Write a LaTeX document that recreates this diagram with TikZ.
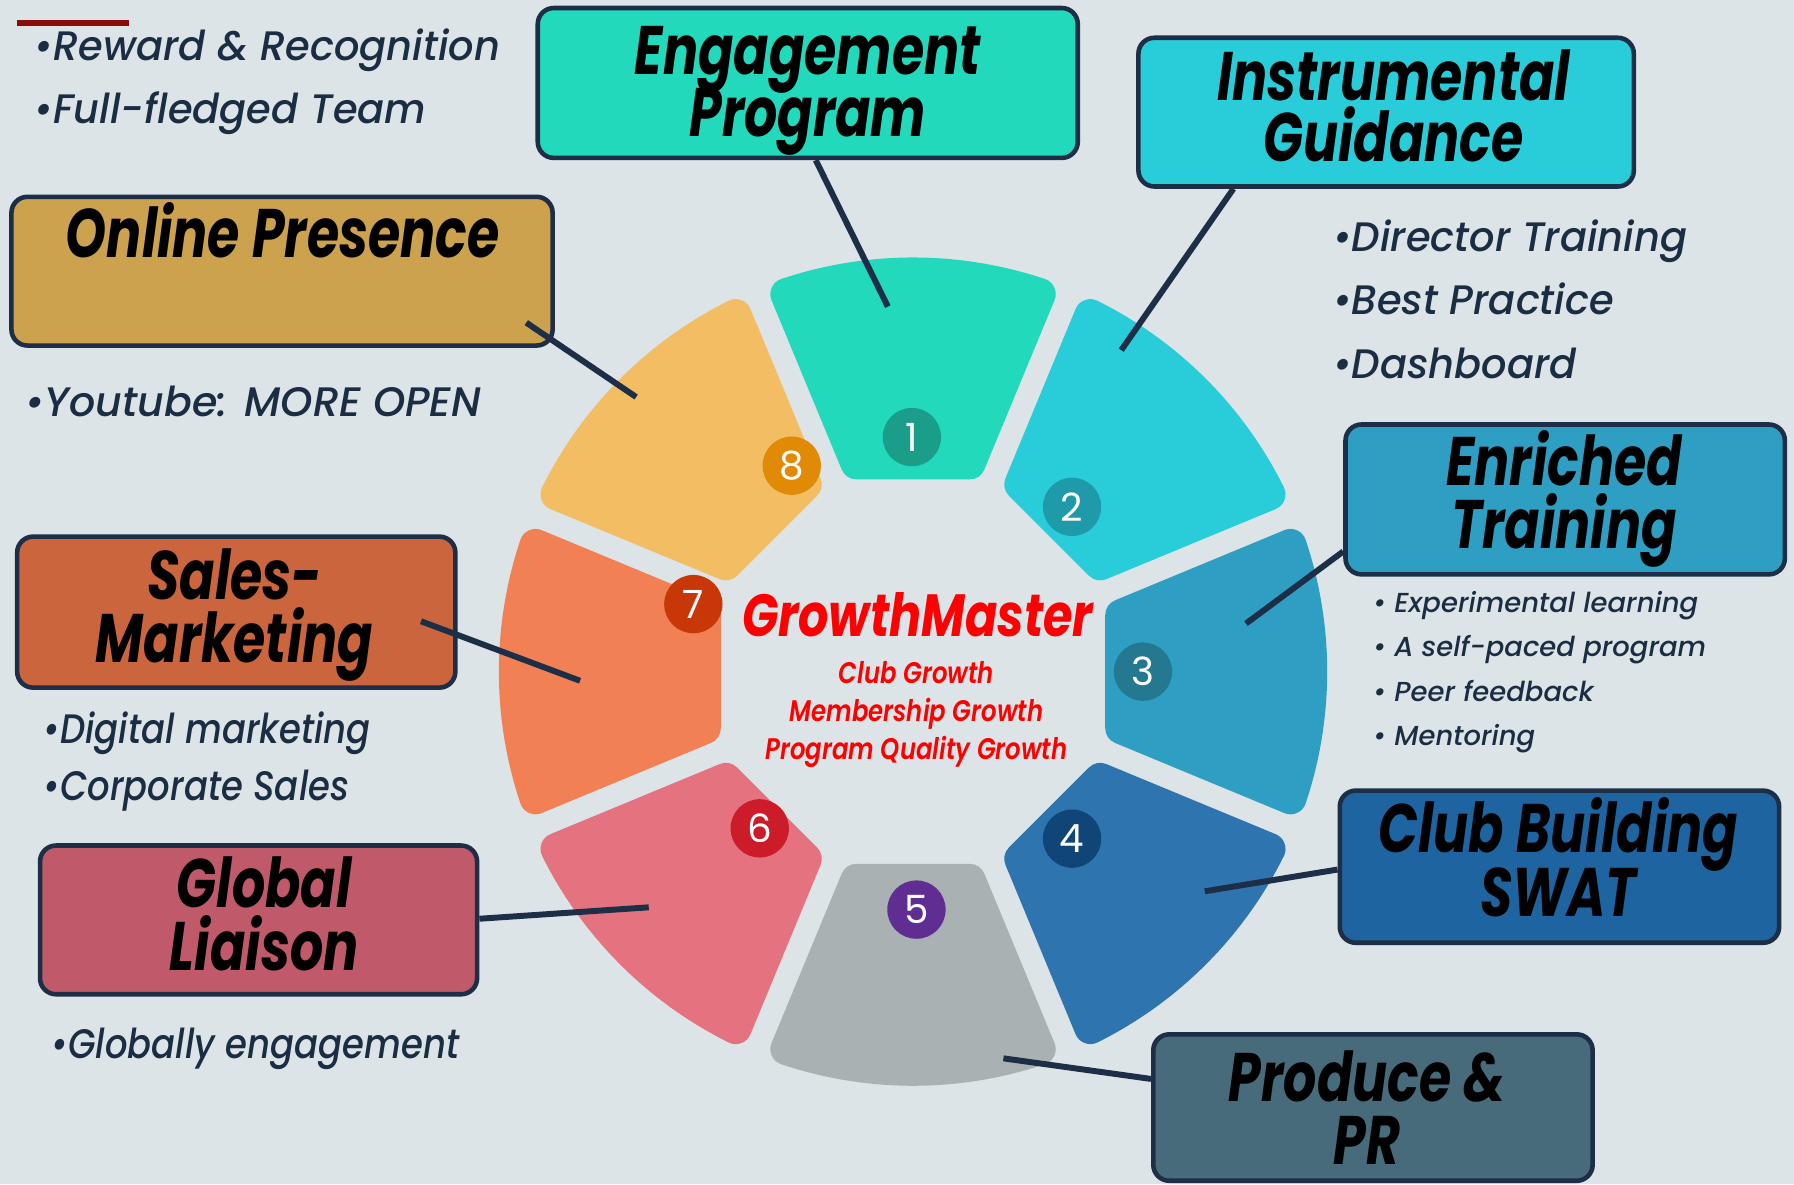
\documentclass[tikz,border=0pt]{standalone}
\usepackage{fontspec}
\usetikzlibrary{calc}
\newfontfamily\titlef{Poppins Bold Italic}[FakeStretch=0.76]
\newfontfamily\gmf{Poppins Bold Italic}[FakeStretch=0.80]
\newfontfamily\bulf{Poppins Medium Italic}[FakeStretch=0.97]
\newfontfamily\bulfb{Poppins Medium Italic}[FakeStretch=0.86]
\newfontfamily\bulfs{Poppins Medium Italic}[FakeStretch=1.0]
\newfontfamily\redf{Poppins SemiBold Italic}[FakeStretch=0.82]
\newfontfamily\numf{Poppins}
\definecolor{bg}{HTML}{DCE4E7}
\definecolor{navy}{HTML}{1D2F46}
\definecolor{txt}{HTML}{1A2D42}
\definecolor{sA}{HTML}{22D9BC}
\definecolor{sB}{HTML}{29CDDA}
\definecolor{sC}{HTML}{2E9EC3}
\definecolor{sD}{HTML}{2E75AF}
\definecolor{sE}{HTML}{A9B1B3}
\definecolor{sF}{HTML}{E5737F}
\definecolor{sG}{HTML}{F18055}
\definecolor{sH}{HTML}{F3BD63}
\definecolor{nA}{HTML}{1A9E8A}
\definecolor{nB}{HTML}{1F9AA8}
\definecolor{nC}{HTML}{24788F}
\definecolor{nD}{HTML}{0F4677}
\definecolor{nE}{HTML}{602E93}
\definecolor{nF}{HTML}{CC1B29}
\definecolor{nG}{HTML}{C83707}
\definecolor{nH}{HTML}{E08A05}
\definecolor{bOnl}{HTML}{CDA24E}
\definecolor{bSal}{HTML}{CB653D}
\definecolor{bClb}{HTML}{1D64A0}
\definecolor{bGlb}{HTML}{C05A6A}
\definecolor{bPro}{HTML}{476B7B}
\definecolor{redline}{HTML}{8B0A0A}
\newcommand\wheelseg[2]{%
  \path[fill=#2, draw=#2, line width=14pt, line join=round]
    ($(c)+(#1-15.19:188.59)$) -- ($(c)+(#1-18.55:348)$)
    arc[start angle=#1-18.55, end angle=#1+18.55, radius=348]
    -- ($(c)+(#1+15.19:188.59)$) -- cycle;}
\tikzset{
  box/.style={draw=navy, line width=2pt, rounded corners=7pt, inner sep=0pt},
  ttl/.style={font=\titlef\fontsize{30}{30}\selectfont, text=black, anchor=base, inner sep=0pt},
  blt/.style={font=\bulf\fontsize{18}{18}\selectfont, text=txt, anchor=base west, inner sep=0pt},
  bltb/.style={font=\bulfb\fontsize{18}{18}\selectfont, text=txt, anchor=base west, inner sep=0pt},
  sblt/.style={font=\bulfs\fontsize{12}{12}\selectfont, text=txt, anchor=base west, inner sep=0pt},
  conn/.style={draw=navy, line width=2.6pt},
  num/.style={circle, minimum size=25.5pt, inner sep=0pt, text=white, font=\numf\fontsize{17}{17}\selectfont},
  redt/.style={text=red, anchor=base, inner sep=0pt}
}
\begin{document}
\begin{tikzpicture}[x=0.5pt, y=-0.5pt]
\useasboundingbox (0,0) rectangle (1568,1035);
\fill[bg] (0,0) rectangle (1568,1035);
\coordinate (c) at (798,587);
% wheel
\wheelseg{-90}{sA}
\wheelseg{-45}{sB}
\wheelseg{0}{sC}
\wheelseg{45}{sD}
\wheelseg{90}{sE}
\wheelseg{135}{sF}
\wheelseg{180}{sG}
\wheelseg{225}{sH}
% number badges
\node[num, fill=nA] (n1) at (797,382) {1};
\node[num, fill=nB] (n2) at (937,443) {2};
\node[num, fill=nC] (n3) at (999,587) {3};
\node[num, fill=nD] (n4) at (937,733) {4};
\node[num, fill=nE] (n5) at (801,795) {5};
\node[num, fill=nF] (n6) at (664,724) {6};
\node[num, fill=nG] (n7) at (606,528) {7};
\node[num, fill=nH] (n8) at (692,407) {8};
% centre text
\node[redt, font=\gmf\fontsize{26}{26}\selectfont] (gm) at (802,556) {GrowthMaster};
\node[redt, font=\redf\fontsize{13}{13}\selectfont] (g1) at (801,597) {Club Growth};
\node[redt, font=\redf\fontsize{13}{13}\selectfont] (g2) at (801,631) {Membership Growth};
\node[redt, font=\redf\fontsize{13}{13}\selectfont] (g3) at (801,664) {Program Quality Growth};
% boxes
\node[box, fill=sA, minimum width=236pt, minimum height=65.5pt] (eng) at (706,72.5) {};
\node[box, fill=sB, minimum width=216.5pt, minimum height=65pt] (ins) at (1211.5,98) {};
\node[box, fill=bOnl, minimum width=236.5pt, minimum height=65pt] (onl) at (246.5,237) {};
\node[box, fill=sC, minimum width=192pt, minimum height=65.5pt] (enr) at (1368,436.5) {};
\node[box, fill=bSal, minimum width=191.5pt, minimum height=66pt] (sal) at (206.5,535) {};
\node[box, fill=bClb, minimum width=192pt, minimum height=66.5pt] (clb) at (1363,757.5) {};
\node[box, fill=bGlb, minimum width=191pt, minimum height=65pt] (glb) at (226,804) {};
\node[box, fill=bPro, minimum width=192pt, minimum height=64pt] (pro) at (1200,968) {};
% titles
\node[ttl] (t1a) at (706,65) {Engagement};
\node[ttl] (t1b) at (706,119) {Program};
\node[ttl] (t2a) at (1218,88) {Instrumental};
\node[ttl] (t2b) at (1218,141) {Guidance};
\node[ttl] (t3) at (247,225) {Online Presence};
\node[ttl] (t4a) at (1367,424) {Enriched};
\node[ttl] (t4b) at (1367,479) {Training};
\node[ttl] (t5a) at (205,524) {Sales-};
\node[ttl] (t5b) at (205,579) {Marketing};
\node[ttl] (t6a) at (1362,745) {Club Building};
\node[ttl] (t6b) at (1362,801) {SWAT};
\node[ttl] (t7a) at (231,793) {Global};
\node[ttl] (t7b) at (231,848) {Liaison};
\node[ttl] (t8a) at (1195,963) {Produce \&};
\node[ttl] (t8b) at (1195,1018) {PR};
% connector end points
\coordinate (e1) at (776,268);
\coordinate (e2) at (980,306);
\coordinate (e8) at (556,347);
\coordinate (e3) at (1089,545);
\coordinate (e7) at (507,595);
\coordinate (e4) at (1053,779);
\coordinate (e6) at (567,793);
\coordinate (e5) at (877,925);
\coordinate (b1) at (713,140);
\coordinate (b2) at (1078,165);
\coordinate (b8) at (460,282);
\coordinate (b3) at (1174,482);
\coordinate (b7) at (368,543);
\coordinate (b4) at (1169,760);
\coordinate (b6) at (419,803);
\coordinate (b5) at (1006,943);
\draw[conn] (b1) -- (e1);
\draw[conn] (b2) -- (e2);
\draw[conn] (b8) -- (e8);
\draw[conn] (b3) -- (e3);
\draw[conn] (b7) -- (e7);
\draw[conn] (b4) -- (e4);
\draw[conn] (b6) -- (e6);
\draw[conn] (b5) -- (e5);
% bullets
\coordinate (r1) at (15,20);
\coordinate (r2) at (113,20);
\draw[redline, line width=2.5pt] (r1) -- (r2);
\node[blt] (l1) at (30,53) {•Reward \& Recognition};
\node[blt] (l2) at (30,108) {•Full-fledged Team};
\node[blt, font=\bulfs\fontsize{18}{18}\selectfont] (l3) at (22,364) {•Youtube: MORE OPEN};
\node[blt] (l4) at (1165,220) {•Director Training};
\node[blt] (l5) at (1165,275) {•Best Practice};
\node[blt] (l6) at (1165,331) {•Dashboard};
\node[sblt] (l7) at (1200,535) {• Experimental learning};
\node[sblt] (l8) at (1200,574) {• A self-paced program};
\node[sblt] (l9) at (1200,613) {• Peer feedback};
\node[sblt] (l10) at (1200,652) {• Mentoring};
\node[bltb] (l11) at (38,650) {•Digital marketing};
\node[bltb] (l12) at (38,700) {•Corporate Sales};
\node[bltb] (l13) at (45,925) {•Globally engagement};
\end{tikzpicture}
\end{document}
